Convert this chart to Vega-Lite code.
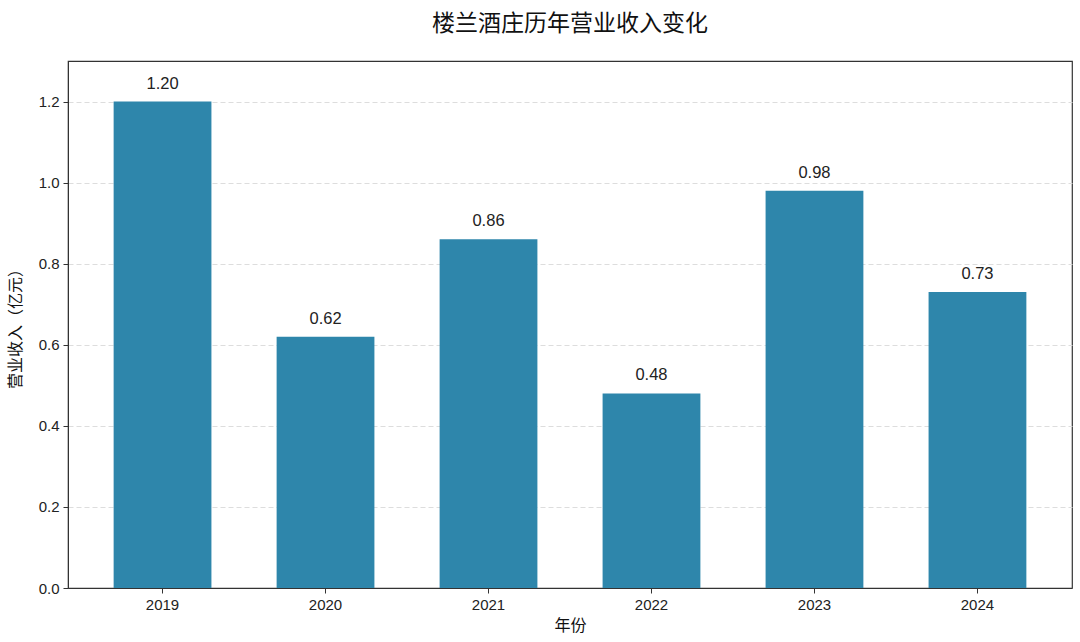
{
  "$schema": "https://vega.github.io/schema/vega-lite/v6.json",
  "autosize": "none",
  "width": 1004,
  "height": 527,
  "padding": {"left": 68, "top": 61, "right": 8, "bottom": 54},
  "background": "white",
  "title": {
    "text": "楼兰酒庄历年营业收入变化",
    "font": "Noto Sans CJK SC",
    "fontSize": 23,
    "fontWeight": "normal",
    "color": "#111111",
    "anchor": "middle",
    "offset": 25
  },
  "config": {
    "view": {"stroke": "#333333", "strokeWidth": 1.2},
    "axis": {
      "labelFont": "Liberation Sans",
      "labelFontSize": 15,
      "labelColor": "#222222",
      "titleFont": "Noto Sans CJK SC",
      "titleFontSize": 16,
      "titleFontWeight": "normal",
      "titleColor": "#111111",
      "domainColor": "#333333",
      "tickColor": "#333333",
      "tickSize": 5
    }
  },
  "data": {
    "values": [
      {"year": "2019", "revenue": 1.20, "label": "1.20"},
      {"year": "2020", "revenue": 0.62, "label": "0.62"},
      {"year": "2021", "revenue": 0.86, "label": "0.86"},
      {"year": "2022", "revenue": 0.48, "label": "0.48"},
      {"year": "2023", "revenue": 0.98, "label": "0.98"},
      {"year": "2024", "revenue": 0.73, "label": "0.73"}
    ]
  },
  "encoding": {
    "x": {
      "field": "year",
      "type": "ordinal",
      "scale": {"paddingInner": 0.4, "paddingOuter": 0.28},
      "axis": {"title": "年份", "labelAngle": 0, "labelPadding": 4, "titlePadding": 5, "grid": false}
    }
  },
  "layer": [
    {
      "mark": {"type": "bar", "color": "#2e86ab"},
      "encoding": {
        "y": {
          "field": "revenue",
          "type": "quantitative",
          "scale": {"domain": [0, 1.3], "nice": false},
          "axis": {
            "title": "营业收入（亿元）",
            "values": [0, 0.2, 0.4, 0.6, 0.8, 1.0, 1.2],
            "format": ".1f",
            "grid": true,
            "gridColor": "#dddddd",
            "gridDash": [5, 3],
            "gridWidth": 1,
            "labelPadding": 4,
            "titlePadding": 15
          }
        }
      }
    },
    {
      "mark": {"type": "text", "dy": -10, "baseline": "bottom", "font": "Liberation Sans", "fontSize": 16.5, "color": "#222222"},
      "encoding": {
        "y": {"field": "revenue", "type": "quantitative"},
        "text": {"field": "label"}
      }
    }
  ]
}
